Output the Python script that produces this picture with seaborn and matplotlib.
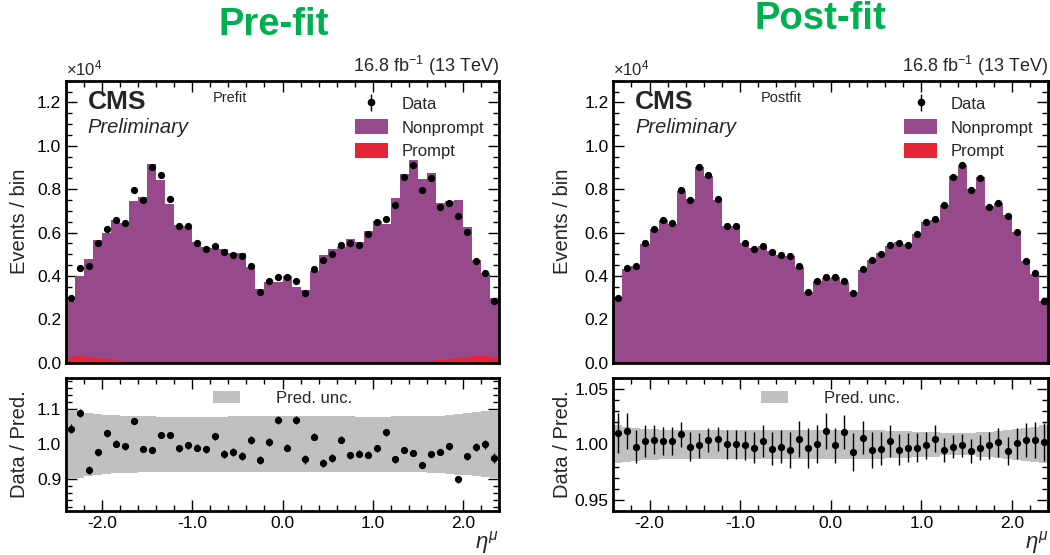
import numpy as np
import pandas as pd
import matplotlib
matplotlib.use("Agg")
import matplotlib.pyplot as plt
import seaborn as sns
from matplotlib.ticker import MultipleLocator, FormatStrFormatter
from matplotlib.patches import Patch

# ---------------- data (events in units of 1e4) ----------------
eta_min, eta_max, n_bins = -2.4, 2.4, 48

data = [0.297, 0.435, 0.446, 0.551, 0.617, 0.658, 0.642, 0.797, 0.751, 0.902, 0.865, 0.754,
        0.629, 0.628, 0.551, 0.526, 0.540, 0.512, 0.495, 0.491, 0.445, 0.325, 0.375, 0.397,
        0.395, 0.375, 0.323, 0.432, 0.472, 0.502, 0.542, 0.554, 0.543, 0.591, 0.648, 0.662,
        0.725, 0.857, 0.912, 0.798, 0.851, 0.720, 0.738, 0.677, 0.603, 0.469, 0.412, 0.285]

prefit_total = [0.285, 0.400, 0.480, 0.565, 0.598, 0.656, 0.645, 0.747, 0.762, 0.916, 0.842, 0.733,
                0.636, 0.628, 0.558, 0.534, 0.528, 0.525, 0.506, 0.508, 0.440, 0.339, 0.372, 0.370,
                0.398, 0.351, 0.337, 0.422, 0.498, 0.522, 0.535, 0.571, 0.557, 0.609, 0.655, 0.640,
                0.757, 0.871, 0.934, 0.847, 0.875, 0.735, 0.745, 0.751, 0.624, 0.473, 0.412, 0.296]

prefit_prompt = [0.028, 0.032, 0.026, 0.021, 0.016, 0.012, 0.010, 0.009, 0.008, 0.008, 0.007, 0.007,
                 0.006, 0.006, 0.005, 0.005, 0.005, 0.004, 0.004, 0.004, 0.004, 0.003, 0.003, 0.003,
                 0.003, 0.003, 0.003, 0.004, 0.004, 0.004, 0.004, 0.005, 0.005, 0.005, 0.006, 0.006,
                 0.007, 0.007, 0.008, 0.009, 0.010, 0.012, 0.016, 0.020, 0.025, 0.030, 0.030, 0.026]

postfit_total = [0.294, 0.430, 0.447, 0.549, 0.615, 0.656, 0.640, 0.790, 0.753, 0.903, 0.862, 0.750,
                 0.629, 0.628, 0.552, 0.528, 0.538, 0.514, 0.496, 0.493, 0.443, 0.326, 0.375, 0.392,
                 0.395, 0.371, 0.325, 0.429, 0.474, 0.504, 0.540, 0.557, 0.545, 0.593, 0.649, 0.659,
                 0.729, 0.859, 0.913, 0.803, 0.854, 0.721, 0.737, 0.681, 0.602, 0.467, 0.410, 0.284]

postfit_prompt = [0.008, 0.009, 0.008, 0.006, 0.005, 0.004, 0.003, 0.003, 0.003, 0.003, 0.002, 0.002,
                  0.002, 0.002, 0.002, 0.002, 0.002, 0.001, 0.001, 0.001, 0.001, 0.001, 0.001, 0.001,
                  0.001, 0.001, 0.001, 0.001, 0.001, 0.001, 0.001, 0.002, 0.002, 0.002, 0.002, 0.002,
                  0.002, 0.002, 0.003, 0.003, 0.003, 0.004, 0.005, 0.006, 0.008, 0.009, 0.009, 0.008]

prefit_ratio = [1.044, 1.089, 0.927, 0.977, 1.032, 1.002, 0.994, 1.066, 0.986, 0.984, 1.027, 1.027,
                0.989, 0.997, 0.991, 0.986, 1.023, 0.973, 0.979, 0.967, 1.012, 0.955, 1.007, 1.069,
                0.991, 1.069, 0.957, 1.022, 0.946, 0.961, 1.013, 0.969, 0.973, 0.971, 0.989, 1.034,
                0.957, 0.984, 0.976, 0.941, 0.973, 0.979, 0.994, 0.901, 0.966, 0.993, 1.000, 0.961]

prefit_ratio_err = [0.013, 0.012, 0.011, 0.011, 0.010, 0.010, 0.010, 0.009, 0.009, 0.009, 0.009, 0.009,
                    0.010, 0.010, 0.010, 0.010, 0.010, 0.011, 0.011, 0.011, 0.011, 0.012, 0.012, 0.011,
                    0.011, 0.012, 0.012, 0.011, 0.011, 0.011, 0.010, 0.010, 0.010, 0.010, 0.010, 0.010,
                    0.009, 0.009, 0.009, 0.009, 0.009, 0.009, 0.009, 0.010, 0.010, 0.011, 0.012, 0.013]

prefit_unc = [0.098, 0.095, 0.090, 0.087, 0.085, 0.083, 0.082, 0.081, 0.080, 0.080, 0.079, 0.079,
              0.079, 0.079, 0.079, 0.079, 0.079, 0.079, 0.080, 0.080, 0.080, 0.080, 0.080, 0.080,
              0.080, 0.080, 0.080, 0.080, 0.080, 0.080, 0.080, 0.080, 0.079, 0.079, 0.079, 0.079,
              0.080, 0.080, 0.080, 0.080, 0.081, 0.082, 0.084, 0.086, 0.088, 0.091, 0.094, 0.097]

postfit_ratio = [1.010, 1.012, 0.998, 1.003, 1.004, 1.003, 1.003, 1.009, 0.998, 0.999, 1.004, 1.005,
                 1.000, 1.000, 0.999, 0.997, 1.003, 0.996, 0.998, 0.995, 1.005, 0.997, 1.000, 1.012,
                 0.999, 1.011, 0.993, 1.006, 0.995, 0.996, 1.003, 0.995, 0.997, 0.997, 0.999, 1.005,
                 0.995, 0.998, 0.999, 0.994, 0.997, 0.999, 1.002, 0.994, 1.001, 1.004, 1.004, 1.002]

postfit_ratio_err = [0.018, 0.016, 0.015, 0.014, 0.013, 0.013, 0.013, 0.011, 0.013, 0.011, 0.011, 0.011,
                     0.013, 0.013, 0.013, 0.014, 0.014, 0.015, 0.015, 0.016, 0.016, 0.018, 0.017, 0.016,
                     0.016, 0.015, 0.017, 0.015, 0.016, 0.015, 0.014, 0.014, 0.013, 0.013, 0.012, 0.012,
                     0.011, 0.010, 0.010, 0.011, 0.011, 0.012, 0.013, 0.013, 0.014, 0.015, 0.016, 0.017]

postfit_unc = [0.017, 0.016, 0.015, 0.014, 0.014, 0.013, 0.013, 0.013, 0.013, 0.013, 0.013, 0.013,
               0.013, 0.013, 0.013, 0.013, 0.013, 0.013, 0.013, 0.013, 0.013, 0.013, 0.013, 0.013,
               0.013, 0.013, 0.013, 0.013, 0.013, 0.013, 0.012, 0.012, 0.012, 0.011, 0.011, 0.011,
               0.010, 0.010, 0.010, 0.010, 0.011, 0.011, 0.012, 0.013, 0.014, 0.015, 0.016, 0.017]

x_ticks = [-2.0, -1.0, 0.0, 1.0, 2.0]
x_tick_labels = ["-2.0", "-1.0", "0.0", "1.0", "2.0"]

# ---------------- style ----------------
sns.set_theme(style="ticks")
plt.rcParams["font.family"] = ["Liberation Sans", "DejaVu Sans"]
plt.rcParams["mathtext.fontset"] = "custom"
plt.rcParams["mathtext.rm"] = "Liberation Sans"
plt.rcParams["mathtext.it"] = "Liberation Sans:italic"
plt.rcParams["axes.unicode_minus"] = False

PURPLE = "#964a8b"
RED = "#e42536"
GREY = "#c0c0c0"
GREEN = "#00b050"

edges = np.linspace(eta_min, eta_max, n_bins + 1)
centers = 0.5 * (edges[:-1] + edges[1:])

fig = plt.figure(figsize=(10.5, 5.55), dpi=100)
W, H = 1050.0, 555.0


def style_axes(ax):
    for s in ax.spines.values():
        s.set_linewidth(2.0)
        s.set_color("black")
    ax.tick_params(which="both", direction="in", top=True, right=True, colors="black",
                   labelsize=12.5, width=1.0)
    ax.tick_params(which="major", length=8)
    ax.tick_params(which="minor", length=4)


def draw_hist(ax, values, color):
    df = pd.DataFrame({"eta": centers, "w": values})
    sns.histplot(data=df, x="eta", weights="w", bins=list(edges), element="step", fill=True,
                 color=color, alpha=1, linewidth=0, ax=ax)


def panel(left_px, width_px, title, title_x, title_y, label, total, prompt, ratio, ratio_err, unc,
          rlim, rmajor, rminor, rfmt, ylab_x):
    ax = fig.add_axes([left_px / W, 1 - 362.7 / H, width_px / W, 282 / H])
    rax = fig.add_axes([left_px / W, 1 - 511 / H, width_px / W, 133.3 / H])

    draw_hist(ax, total, PURPLE)
    draw_hist(ax, prompt, RED)
    ax.errorbar(centers, data, yerr=np.array(data) * 0.01, fmt="o", color="black",
                ms=4.2, elinewidth=1, capsize=0)

    ax.set_xlim(eta_min, eta_max)
    ax.set_ylim(0, 1.3)
    ax.yaxis.set_major_locator(MultipleLocator(0.2))
    ax.yaxis.set_minor_locator(MultipleLocator(0.05))
    ax.yaxis.set_major_formatter(FormatStrFormatter("%.1f"))
    ax.set_xticks(x_ticks)
    ax.xaxis.set_minor_locator(MultipleLocator(0.2))
    ax.tick_params(labelbottom=False)
    ax.set_xlabel("")
    ax.set_ylabel("Events / bin", fontsize=14.5)
    ax.yaxis.set_label_coords(ylab_x, 0.5)
    style_axes(ax)

    ax.text(0.0, 1.008, r"$\times$10$^{4}$", transform=ax.transAxes, fontsize=12,
            ha="left", va="bottom")
    ax.text(1.0, 1.008, r"16.8 fb$^{-1}$ (13 TeV)", transform=ax.transAxes, fontsize=13,
            ha="right", va="bottom")
    ax.text(0.05, 0.968, "CMS", transform=ax.transAxes, fontsize=19, fontweight="bold",
            ha="left", va="top")
    ax.text(0.05, 0.868, "Preliminary", transform=ax.transAxes, fontsize=14.5, style="italic",
            ha="left", va="top")
    ax.text(0.34, 0.962, label, transform=ax.transAxes, fontsize=10.5, ha="left", va="top")

    data_handle = ax.errorbar([], [], yerr=[], fmt="o", color="black", ms=4.5,
                              elinewidth=1, capsize=0)
    handles = [data_handle,
               Patch(facecolor=PURPLE, edgecolor="none"),
               Patch(facecolor=RED, edgecolor="none")]
    ax.legend(handles, ["Data", "Nonprompt", "Prompt"], loc="upper right",
              bbox_to_anchor=(1.0, 1.0), frameon=False, fontsize=12,
              handlelength=2.0, handleheight=1.0, labelspacing=0.45, borderaxespad=0.5)

    fig.text(title_x / W, title_y, title, fontsize=27.5, fontweight="bold",
             color=GREEN, ha="center", va="top")

    # ratio panel
    lo = np.append(1 - np.array(unc), 1 - unc[-1])
    hi = np.append(1 + np.array(unc), 1 + unc[-1])
    rax.fill_between(edges, lo, hi, step="post", color=GREY, lw=0)
    rax.errorbar(centers, ratio, yerr=ratio_err, fmt="o", color="black", ms=4.2,
                 elinewidth=1, capsize=0)
    rax.set_xlim(eta_min, eta_max)
    rax.set_ylim(*rlim)
    rax.yaxis.set_major_locator(MultipleLocator(rmajor))
    rax.yaxis.set_minor_locator(MultipleLocator(rminor))
    rax.yaxis.set_major_formatter(FormatStrFormatter(rfmt))
    rax.set_xticks(x_ticks)
    rax.set_xticklabels(x_tick_labels)
    rax.xaxis.set_minor_locator(MultipleLocator(0.2))
    rax.set_ylabel("Data / Pred.", fontsize=14.5)
    rax.yaxis.set_label_coords(ylab_x, 0.5)
    rax.set_xlabel(r"$\eta^{\mu}$", fontsize=16, loc="right", labelpad=-1)
    style_axes(rax)
    rax.legend([Patch(facecolor=GREY, edgecolor="none")], ["Pred. unc."], loc="upper center",
               frameon=False, fontsize=12, handlelength=1.6, handletextpad=2.2,
               borderaxespad=0.4)
    return ax, rax


panel(66, 433, "Pre-fit", 274, 1 - 7 / H, "Prefit", prefit_total, prefit_prompt, prefit_ratio,
      prefit_ratio_err, prefit_unc, (0.81, 1.19), 0.1, 0.02, "%.1f", -0.085)
panel(613.3, 435, "Post-fit", 820, 1 - 1 / H, "Postfit", postfit_total, postfit_prompt,
      postfit_ratio, postfit_ratio_err, postfit_unc, (0.94, 1.06), 0.05, 0.01, "%.2f", -0.095)

fig.savefig("out.png", dpi=100)
